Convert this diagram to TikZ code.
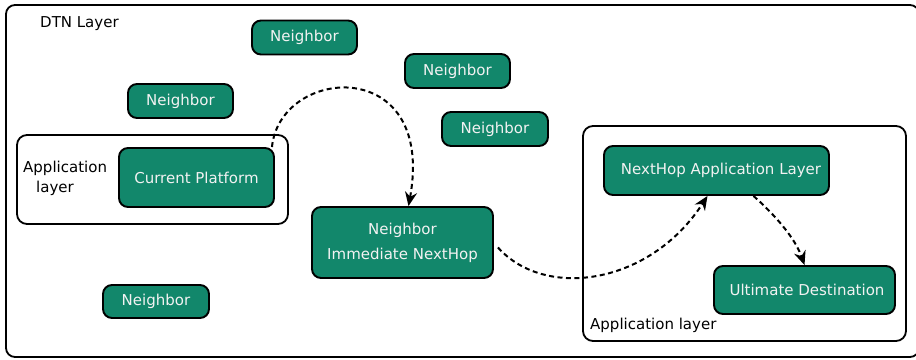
\documentclass[tikz,border=0pt]{standalone}
\usepackage{fontspec}
\setmainfont{DejaVu Sans}
\usetikzlibrary{arrows.meta}
\definecolor{nodegreen}{HTML}{12876B}
\definecolor{nodetext}{HTML}{F2F2F2}
\begin{document}
\begin{tikzpicture}[x=1pt,y=-1pt,
  every node/.style={font=\fontsize{15}{18}\selectfont},
  gnode/.style={draw=black, line width=1.9pt, fill=nodegreen, rounded corners=9pt,
    text=nodetext, inner sep=0pt, align=center},
  layerbox/.style={draw=black, line width=1.8pt, rounded corners=10pt},
  lbl/.style={text=black, inner sep=0pt, anchor=west},
  flow/.style={line width=2pt, dash pattern=on 5pt off 3.5pt,
    -{Stealth[length=14pt,width=12pt]}}
]
\useasboundingbox (0,0) rectangle (916,359);
\fill[white] (0,0) rectangle (916,359);
% outer DTN layer
\draw[line width=1.8pt, rounded corners=9pt] (6,5) rectangle (919,357);
\node[lbl] (dtn) at (40,24) {DTN Layer};
% left application layer box
\draw[layerbox] (17,135) rectangle (288,224);
\node[lbl, align=left, font=\fontsize{15}{20}\selectfont] (appL) at (23,178) {Application\\\hspace{13pt}layer};
% right application layer box
\draw[layerbox] (583,126) rectangle (906,341);
\node[lbl] (appR) at (590,325) {Application layer};
% neighbors
\node[gnode, minimum width=105pt, minimum height=34pt] (n1) at (304.5,37.5) {Neighbor};
\node[gnode, minimum width=105pt, minimum height=34pt] (n2) at (457.5,71) {Neighbor};
\node[gnode, minimum width=106pt, minimum height=34pt] (n3) at (495,129) {Neighbor};
\node[gnode, minimum width=105pt, minimum height=34pt] (n4) at (180.5,101) {Neighbor};
\node[gnode, minimum width=106pt, minimum height=33pt] (n5) at (156,301.5) {Neighbor};
% main nodes
\node[gnode, minimum width=155pt, minimum height=59pt] (cp) at (196.5,177.5) {Current Platform};
\node[gnode, minimum width=181pt, minimum height=71pt, font=\fontsize{15}{25}\selectfont] (imm) at (402.5,242.5) {Neighbor\\Immediate NextHop};
\node[gnode, minimum width=225pt, minimum height=49pt] (nh) at (716.5,170.5) {\hspace{9pt}NextHop Application Layer};
\node[gnode, minimum width=181pt, minimum height=48pt] (ud) at (804.5,290) {\hspace{5pt}Ultimate Destination};
% connectors
\draw[flow] ([xshift=-3pt]cp.north east) .. controls (280,66) and (436,54) .. ([xshift=6pt]imm.north);
\draw[flow] ([xshift=4pt,yshift=-5pt]imm.east) .. controls (545,300) and (650,285) .. ([xshift=-9pt]nh.south);
\draw[flow] ([xshift=37pt]nh.south) .. controls (775,215) and (795,238) .. (ud.north);
\end{tikzpicture}
\end{document}
